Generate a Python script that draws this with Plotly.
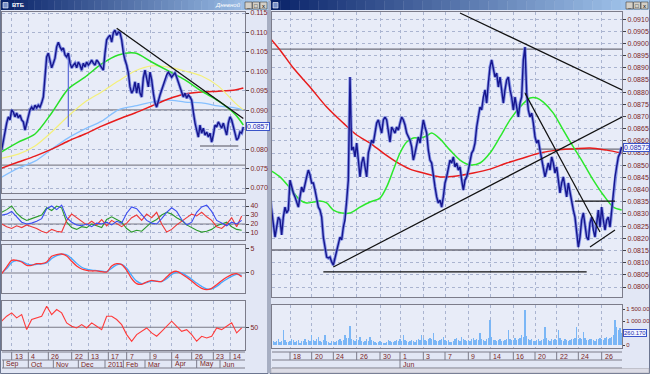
import plotly.graph_objects as go

W, H = 650, 374
def PX(x): return x / W
def PY(y): return 1 - y / H

# ---------------- DATA ----------------
# Left window (daily): price, bar index 0..145
left_price = [
    0.0798, 0.0823, 0.0841, 0.0867, 0.0883, 0.0875, 0.0901, 0.0895, 0.0883, 0.0893,
    0.0880, 0.0888, 0.0875, 0.0870, 0.0849, 0.0867, 0.0883, 0.0901, 0.0908, 0.0901,
    0.0913, 0.0906, 0.0913, 0.0908, 0.0919, 0.0934, 0.0985, 0.1037, 0.1047, 0.1029,
    0.1009, 0.1021, 0.1034, 0.1063, 0.1075, 0.1063, 0.1055, 0.1060, 0.1042, 0.1037,
    0.1047, 0.1021, 0.1009, 0.1016, 0.1021, 0.1009, 0.1024, 0.1016, 0.1003, 0.1021,
    0.1011, 0.1024, 0.1016, 0.1021, 0.1029, 0.1021, 0.1016, 0.1029, 0.1024, 0.1016,
    0.1009, 0.1003, 0.1047, 0.1081, 0.1088, 0.1093, 0.1075, 0.1099, 0.1106, 0.1093,
    0.1101,
    0.1099, 0.1081, 0.1047, 0.1029, 0.1016, 0.0996, 0.0960, 0.0944, 0.0952,
    0.0973, 0.0944, 0.0970, 0.0944, 0.0934, 0.0983, 0.1003, 0.0985, 0.0960, 0.0998,
    0.0978, 0.0944, 0.0919, 0.0908, 0.0926, 0.0939, 0.0952, 0.0965, 0.0973, 0.0991,
    0.0998, 0.0991, 0.0985, 0.0991, 0.0996, 0.0985, 0.0973, 0.0957, 0.0947, 0.0934,
    0.0944, 0.0931, 0.0939, 0.0934, 0.0926, 0.0893, 0.0867, 0.0849, 0.0831, 0.0862,
    0.0841, 0.0854, 0.0836, 0.0844, 0.0831, 0.0841, 0.0818, 0.0836, 0.0862, 0.0857,
    0.0870, 0.0862, 0.0854, 0.0867, 0.0849, 0.0836, 0.0867, 0.0883, 0.0875, 0.0854,
    0.0841, 0.0823, 0.0829, 0.0844, 0.0841, 0.0857,
]
left_spike_idx = [40]
left_spike_low = [0.0857]
left_spike_high = [0.1047]

left_ma_x = [0, 10, 20, 30, 40, 50, 60, 70, 80, 90, 100, 110, 120, 130, 140, 145]
left_ma_green = [0.0793, 0.0818, 0.0839, 0.0893, 0.0955, 0.0985, 0.1019, 0.1042, 0.1047, 0.1024, 0.1001, 0.0978, 0.0949, 0.0924, 0.0890, 0.0862]
left_ma_yellow = [0.0777, 0.0787, 0.0808, 0.0844, 0.0885, 0.0921, 0.0947, 0.0975, 0.1001, 0.1014, 0.1011, 0.1001, 0.0988, 0.0962, 0.0919, 0.0901]
left_ma_lblue = [0.0728, 0.0751, 0.0769, 0.0800, 0.0829, 0.0852, 0.0872, 0.0901, 0.0911, 0.0921, 0.0926, 0.0921, 0.0919, 0.0911, 0.0906, 0.0901]
left_ma_red = [0.0751, 0.0767, 0.0782, 0.0800, 0.0821, 0.0839, 0.0859, 0.0877, 0.0893, 0.0911, 0.0929, 0.0942, 0.0947, 0.0949, 0.0952, 0.0957]

left_trend_x = [69, 145]
left_trend_y = [0.1111, 0.0879]
left_levels_full = [0.0901, 0.0759]
left_short_level_x = [119, 142]
left_short_level = 0.0808

# indicators (every 3rd bar)
ind_x = list(range(0, 145, 3))
adx_blue = [30, 31, 34, 28, 22, 20, 21, 23, 26, 37, 40, 36, 41, 27, 22, 19, 18, 20, 17, 21, 20, 22, 19, 23, 21,
            32, 39, 37, 30, 24, 21, 20, 26, 33, 38, 34, 25, 19, 22, 33, 39, 41, 34, 24, 21, 18, 22, 20, 24]
adx_red = [20, 17, 15, 18, 16, 19, 17, 15, 12, 10, 14, 12, 11, 24, 31, 27, 22, 19, 23, 19, 25, 18, 24, 20, 17,
           21, 27, 30, 24, 31, 27, 33, 20, 11, 14, 19, 23, 27, 31, 29, 33, 28, 24, 17, 15, 20, 27, 17, 29]
adx_green = [33, 36, 40, 32, 27, 24, 26, 28, 30, 38, 35, 40, 38, 22, 16, 14, 17, 16, 20, 18, 16, 25, 28, 25, 22,
             15, 11, 13, 12, 17, 22, 25, 30, 33, 31, 27, 24, 19, 16, 13, 11, 12, 14, 18, 20, 22, 17, 14, 13]
macd_red = [-0.14, 1.25, 2.64, 2.64, 2.29, 1.60, 1.60, 1.94, 1.94, 2.29, 3.47, 3.82, 3.96, 3.54, 2.43,
            1.46, 0.83, 0.56, 0.42, 0.42, 0.28, 0.21, 1.46, 1.94, 1.74, 0.56, -1.18, -2.22, -2.36, -1.88,
            -1.53, -1.74, -1.74, -0.83, 0.07, 0.35, -0.21, -0.90, -1.67, -2.57, -3.19, -3.47, -3.19, -2.43,
            -1.60, -0.90, -0.35, -0.14, -0.76]
macd_blue = [0.0, 0.9, 2.2, 2.6, 2.4, 1.9, 1.7, 1.8, 1.9, 2.1, 3.0, 3.6, 3.9, 3.8, 3.0, 2.0, 1.2, 0.8, 0.6, 0.5,
             0.4, 0.3, 1.0, 1.7, 1.8, 1.0, -0.5, -1.7, -2.2, -2.0, -1.7, -1.7, -1.8, -1.2, -0.3, 0.2, 0.0, -0.6,
             -1.3, -2.1, -2.8, -3.3, -3.3, -2.8, -2.0, -1.3, -0.7, -0.3, -0.5]
rsi = [56.9, 62.6, 66.4, 60.7, 64.5, 47.3, 58.8, 60.7, 62.6, 74.0, 64.5, 70.2, 66.4, 55.0, 51.1, 49.2, 53.0,
       49.2, 55.0, 51.1, 47.3, 62.6, 62.6, 58.8, 53.0, 41.6, 34.0, 41.6, 45.4, 49.2, 43.5, 39.7, 45.4, 51.1,
       56.9, 51.1, 45.4, 47.3, 41.6, 34.0, 39.7, 37.8, 39.7, 49.2, 47.3, 51.1, 55.0, 43.5, 49.2]

left_day_ticks = [6, 16, 28, 42, 52, 64, 75, 89, 102, 114, 127, 137]
left_day_labels = ["13", "4", "26", "22", "13", "17", "7", "9", "4", "26", "23", "14"]
left_month_ticks = [1, 16, 31, 46, 62, 73, 86, 102, 117, 131]
left_month_labels = ["Sep", "Oct", "Nov", "Dec", "2011", "Feb", "Mar", "Apr", "May", "Jun"]
left_yticks = [0.070, 0.075, 0.080, 0.085, 0.090, 0.095, 0.100, 0.105, 0.110, 0.115]
# 0.085 is hidden under the last-value box in the reference
left_yticktext = ["0.070", "0.075", "0.080", "", "0.090", "0.095", "0.100", "0.105", "0.110", "0.115"]
left_last = 0.0857

# Right window (intraday): bar index 0..211
right_price = [
    0.08370, 0.08316, 0.08263, 0.08205, 0.08246, 0.08287, 0.08275, 0.08214, 0.08287, 0.08328,
    0.08304, 0.08316, 0.08439, 0.08411, 0.08386, 0.08370, 0.08349, 0.08328, 0.08370, 0.08411,
    0.08390, 0.08427, 0.08452, 0.08480, 0.08460, 0.08427, 0.08427, 0.08398, 0.08357, 0.08328,
    0.08316, 0.08287, 0.08205, 0.08164, 0.08123, 0.08119, 0.08123, 0.08103, 0.08090, 0.08119,
    0.08152, 0.08181, 0.08205, 0.08193, 0.08246, 0.08275, 0.08345, 0.08439, 0.08862, 0.08562,
    0.08575, 0.08534, 0.08591, 0.08521, 0.08452, 0.08509, 0.08534, 0.08493, 0.08452, 0.08550,
    0.08575, 0.08603, 0.08591, 0.08632, 0.08673, 0.08686, 0.08657, 0.08632, 0.08686, 0.08698,
    0.08686, 0.08632, 0.08595, 0.08657, 0.08644, 0.08632, 0.08657, 0.08644, 0.08673, 0.08698,
    0.08686, 0.08665, 0.08632, 0.08616, 0.08603, 0.08575, 0.08521, 0.08550, 0.08591, 0.08616,
    0.08591, 0.08644, 0.08686, 0.08657, 0.08632, 0.08562, 0.08521, 0.08509, 0.08452, 0.08411,
    0.08370, 0.08345, 0.08357, 0.08328, 0.08370, 0.08427, 0.08452, 0.08493, 0.08521, 0.08509,
    0.08534, 0.08493, 0.08509, 0.08480, 0.08493, 0.08439, 0.08398, 0.08439, 0.08452, 0.08480,
    0.08509, 0.08550, 0.08562, 0.08591, 0.08657, 0.08698, 0.08739, 0.08727, 0.08780, 0.08809,
    0.08755, 0.08837, 0.08903, 0.08932, 0.08891, 0.08862, 0.08878, 0.08821, 0.08862, 0.08796,
    0.08755, 0.08809, 0.08850, 0.08862, 0.08809, 0.08780, 0.08727, 0.08780, 0.08739, 0.08698,
    0.08755, 0.08780, 0.08932, 0.08985, 0.08796, 0.08727, 0.08698, 0.08714, 0.08673, 0.08616,
    0.08591, 0.08603, 0.08562, 0.08521, 0.08493, 0.08452, 0.08480, 0.08509, 0.08480, 0.08534,
    0.08509, 0.08468, 0.08493, 0.08439, 0.08386, 0.08427, 0.08452, 0.08411, 0.08370, 0.08427,
    0.08386, 0.08345, 0.08316, 0.08287, 0.08234, 0.08164, 0.08205, 0.08275, 0.08304, 0.08246,
    0.08205, 0.08193, 0.08263, 0.08287, 0.08234, 0.08205, 0.08263, 0.08316, 0.08246, 0.08328,
    0.08275, 0.08234, 0.08275, 0.08287, 0.08246, 0.08316, 0.08370, 0.08452, 0.08493, 0.08534,
    0.08550, 0.08575,
]
right_volume = [
    750, 210, 150, 120, 180, 240, 130, 160, 620, 200, 140, 110, 170, 260, 190, 130, 150, 220, 100, 160,
    180, 240, 130, 210, 150, 420, 190, 160, 230, 350, 180, 140, 200, 420, 170, 120, 90, 150, 110, 130,
    160, 200, 250, 180, 220, 400, 300, 280, 790, 260, 210, 170, 230, 190, 350, 150, 120, 180, 240, 160,
    350, 200, 150, 110, 90, 130, 170, 120, 80, 100, 140, 190, 160, 110, 130, 150, 200, 170, 240, 180,
    420, 210, 150, 130, 180, 220, 160, 140, 200, 250, 190, 420, 280, 210, 160, 230, 300, 250, 480, 220,
    180, 150, 200, 240, 350, 190, 160, 210, 140, 120, 170, 230, 280, 200, 150, 350, 240, 190, 160, 210,
    180, 250, 300, 220, 270, 200, 480, 260, 210, 180, 240, 300, 1040, 350, 220, 190, 160, 200, 250, 180,
    150, 210, 260, 620, 240, 190, 220, 280, 210, 260, 300, 420, 350, 1460, 380, 260, 200, 230, 180, 150,
    200, 240, 180, 220, 260, 760, 300, 210, 180, 240, 200, 260, 220, 620, 280, 210, 170, 230, 190, 160,
    200, 250, 230, 280, 760, 260, 300, 250, 560, 280, 220, 190, 240, 270, 210, 180, 230, 260, 300, 250,
    220, 280, 320, 260, 300, 350, 400, 1040, 760, 620, 700, 480,
]
right_red_x = [0, 6, 14, 24, 34, 44, 52, 60, 68, 76, 84, 92, 102, 112, 122, 132, 142, 152, 162, 172, 182, 192, 202, 211]
right_red = [0.09022, 0.08973, 0.08899, 0.08821, 0.08739, 0.08673, 0.08624, 0.08591, 0.08550, 0.08513, 0.08484,
             0.08468, 0.08452, 0.08456, 0.08468, 0.08484, 0.08509, 0.08530, 0.08550, 0.08562, 0.08567, 0.08571,
             0.08562, 0.08550]
right_green_x = [0, 6, 12, 18, 22, 26, 30, 34, 38, 43, 48, 54, 60, 66, 70, 74, 78, 82, 86, 90, 94, 97, 102, 108,
                 114, 120, 126, 132, 138, 144, 150, 156, 160, 164, 170, 176, 182, 188, 194, 200, 206, 211]
right_green = [0.08480, 0.08452, 0.08406, 0.08357, 0.08345, 0.08349, 0.08353, 0.08345, 0.08316, 0.08304, 0.08304,
               0.08328, 0.08349, 0.08365, 0.08411, 0.08480, 0.08550, 0.08595, 0.08612, 0.08612, 0.08620, 0.08632,
               0.08608, 0.08562, 0.08521, 0.08501, 0.08509, 0.08550, 0.08616, 0.08686, 0.08739, 0.08776, 0.08776,
               0.08759, 0.08714, 0.08644, 0.08575, 0.08509, 0.08439, 0.08378, 0.08328, 0.08316]
# drawn trendlines: (x0, y0, x1, y1)
right_trends = [
    (114, 0.09125, 211.2, 0.08809),
    (38, 0.08082, 211.2, 0.08698),
    (153, 0.08796, 198, 0.08226),
    (192, 0.08164, 207, 0.08234),
    (183, 0.08353, 207, 0.08353),
    (32, 0.08062, 190, 0.08062),
]
right_gray_levels = [(0, 211.2, 0.08977), (0, 200, 0.08152), (160, 211.2, 0.08566)]
right_day_ticks = [12, 25, 38, 52, 66, 78, 92, 105, 119, 132, 146, 159, 172, 185, 199]
right_day_labels = ["18", "20", "24", "26", "30", "1", "3", "7", "9", "14", "16", "20", "22", "24", "26"]
right_month_ticks = [78]
right_month_labels = ["Jun"]
right_yticks = [0.0800, 0.0805, 0.0810, 0.0815, 0.0820, 0.0825, 0.0830, 0.0835, 0.0840, 0.0845, 0.0850, 0.0855,
                0.0860, 0.0865, 0.0870, 0.0875, 0.0880, 0.0885, 0.0890, 0.0895, 0.0900, 0.0905, 0.0910]
right_yticktext = ["0.0800", "0.0805", "0.0810", "0.0815", "0.0820", "0.0825", "0.0830", "0.0835", "0.0840",
                   "0.0845", "0.0850", "0.0855", "0.0860", "0.0865", "0.0870", "0.0875", "0.0880", "0.0885",
                   "0.0890", "0.0895", "0.0900", "0.0905", "0.0910"]
right_last = 0.08572
vol_ticks = [0, 1000, 1500]
vol_ticktext = ["0", "1 000.00", "1 500.00"]
vol_last_label = "260.170"

# ---------------- FIGURE ----------------
fig = go.Figure()

def add_line(x, y, color, width, xa, ya, shape='linear', opacity=1.0):
    fig.add_trace(go.Scatter(x=x, y=y, mode='lines', opacity=opacity,
                             line=dict(color=color, width=width, shape=shape, smoothing=0.8 if shape == 'spline' else None),
                             xaxis=xa, yaxis=ya, hoverinfo='skip', showlegend=False))

LX = [0.2, 146.0]
RX = [1.2, 211.2]
lx = list(range(len(left_price)))
rx = list(range(len(right_price)))

# left main
for lvl in left_levels_full:
    add_line(LX, [lvl, lvl], '#858590', 1.3, 'x', 'y')
add_line(left_short_level_x, [left_short_level] * 2, '#858590', 1.3, 'x', 'y')
add_line(left_ma_x, left_ma_lblue, '#86c0ff', 1.3, 'x', 'y', 'spline')
add_line(left_ma_x, left_ma_red, '#e81c1c', 1.5, 'x', 'y', 'spline')
add_line(left_ma_x, left_ma_yellow, '#f4f07a', 1.2, 'x', 'y', 'spline')
add_line(left_ma_x, left_ma_green, '#28e028', 1.5, 'x', 'y', 'spline')
for i, lo, hi in zip(left_spike_idx, left_spike_low, left_spike_high):
    add_line([i, i], [lo, hi], '#5a6ad8', 1.2, 'x', 'y')
add_line(lx, left_price, '#6a7ae0', 3.2, 'x', 'y', opacity=0.75)
add_line(lx, left_price, '#16168e', 1.4, 'x', 'y')
add_line(left_trend_x, left_trend_y, '#111111', 1.3, 'x', 'y')

# ADX panel
add_line(LX, [20, 20], '#7a7a86', 1.2, 'x2', 'y2')
add_line(ind_x, adx_green, '#2c9a2c', 1.1, 'x2', 'y2')
add_line(ind_x, adx_red, '#f03838', 1.1, 'x2', 'y2')
add_line(ind_x, adx_blue, '#3a4cf0', 1.1, 'x2', 'y2')
# MACD panel
add_line(LX, [0, 0], '#7a7a86', 1.2, 'x3', 'y3')
add_line(ind_x, macd_blue, '#46a8ff', 1.3, 'x3', 'y3', 'spline')
add_line(ind_x, macd_red, '#ff3434', 1.3, 'x3', 'y3', 'spline')
# RSI panel
add_line(LX, [50, 50], '#7a7a86', 1.2, 'x4', 'y4')
add_line(ind_x, rsi, '#ff3a3a', 1.1, 'x4', 'y4')

# right main
for x0, x1, lvl in right_gray_levels:
    add_line([x0, x1], [lvl, lvl], '#6e6e7a', 1.3, 'x5', 'y5')
add_line(right_red_x, right_red, '#e81c1c', 1.5, 'x5', 'y5', 'spline')
add_line(right_green_x, right_green, '#2ce82c', 1.5, 'x5', 'y5', 'spline')
add_line(rx, right_price, '#6a7ae0', 3.2, 'x5', 'y5', opacity=0.75)
add_line(rx, right_price, '#16168e', 1.4, 'x5', 'y5')
for x0, y0, x1, y1 in right_trends:
    add_line([x0, x1], [y0, y1], '#111111', 1.2, 'x5', 'y5')

# volume
fig.add_trace(go.Bar(x=rx, y=right_volume, width=0.8, marker=dict(color='#7ab6f6', line=dict(width=0)),
                     xaxis='x6', yaxis='y6', hoverinfo='skip', showlegend=False))

AX_FONT = dict(family='Liberation Sans, Arial, sans-serif', size=7, color='#7a1e1e')
VOL_FONT = dict(family='Liberation Sans, Arial, sans-serif', size=6, color='#7a1e1e')
GRID = dict(showgrid=True, gridcolor='#aab4d0', griddash='dot', gridwidth=1)
FRAME = dict(showline=True, mirror=True, linecolor='#7c7c8a', linewidth=1, zeroline=False)

def xax(domain, rng, ticks, anchor):
    return dict(domain=domain, range=rng, tickmode='array', tickvals=ticks, showticklabels=False, ticks='',
                anchor=anchor, fixedrange=True, automargin=False, **GRID, **FRAME)

def yax(domain, rng, tv, tt, anchor, grid=True, font=AX_FONT, ticklen=3):
    g = dict(GRID) if grid else dict(showgrid=False)
    return dict(domain=domain, range=rng, tickmode='array', tickvals=tv, ticktext=tt, side='right',
                ticks='outside', ticklen=ticklen, tickcolor='#404048', tickfont=font, anchor=anchor,
                automargin=False, fixedrange=True, **g, **FRAME)

LXD = [PX(2), PX(245)]
RXD = [PX(272), PX(622)]

layout = dict(
    width=W, height=H, margin=dict(l=0, r=0, t=0, b=0), template='none',
    paper_bgcolor='#e2e7f5', plot_bgcolor='#e8ecf8', showlegend=False,
    font=dict(family='Liberation Sans, Arial, sans-serif', size=7, color='#7a1e1e'),
    xaxis=xax(LXD, LX, left_day_ticks, 'y'),
    yaxis=yax([PY(193), PY(12)], [0.06872, 0.11526], left_yticks, left_yticktext, 'x'),
    xaxis2=xax(LXD, LX, left_day_ticks, 'y2'),
    yaxis2=yax([PY(240), PY(200)], [2.2, 46.7], [10, 20, 30, 40], ["10", "20", "30", "40"], 'x2'),
    xaxis3=xax(LXD, LX, left_day_ticks, 'y3'),
    yaxis3=yax([PY(293), PY(245)], [-4.17, 5.83], [0, 5], ["0", "5"], 'x3', grid=False),
    xaxis4=xax(LXD, LX, left_day_ticks, 'y4'),
    yaxis4=yax([PY(350), PY(301)], [24, 80], [50], ["50"], 'x4', grid=False),
    xaxis5=xax(RXD, RX, right_day_ticks, 'y5'),
    yaxis5=yax([PY(297), PY(12)], [0.07959, 0.09129], right_yticks, right_yticktext, 'x5'),
    xaxis6=xax(RXD, RX, right_day_ticks, 'y6'),
    yaxis6=yax([PY(348), PY(305)], [-125, 1667], vol_ticks, vol_ticktext, 'x6', grid=False,
               font=VOL_FONT, ticklen=2),
    bargap=0,
)
fig.update_layout(**layout)

shapes = []
annotations = []

# window frames
shapes.append(dict(type='rect', xref='paper', yref='paper', x0=PX(0.5), x1=PX(268), y0=PY(373.5), y1=PY(0.5),
                   line=dict(color='#6c7690', width=1), layer='below'))
shapes.append(dict(type='rect', xref='paper', yref='paper', x0=PX(270), x1=PX(649.5), y0=PY(373.5), y1=PY(0.5),
                   line=dict(color='#6c7690', width=1), layer='below'))

# title bars with gradient
def title_bar(x0, x1):
    n = 40
    c0, c1 = (10, 36, 106), (166, 202, 240)
    for k in range(n):
        t = k / (n - 1)
        c = tuple(int(c0[i] + (c1[i] - c0[i]) * t) for i in range(3))
        xa = x0 + (x1 - x0) * k / n
        xb = x0 + (x1 - x0) * (k + 1) / n
        shapes.append(dict(type='rect', xref='paper', yref='paper', x0=PX(xa), x1=PX(xb) + 0.0005,
                           y0=PY(10), y1=PY(0), line=dict(width=0), fillcolor='rgb(%d,%d,%d)' % c))
    for b, g in zip(range(3), ['_', '□', 'x']):
        bx1 = x1 - 1 - (2 - b) * 7.5
        shapes.append(dict(type='rect', xref='paper', yref='paper', x0=PX(bx1 - 7), x1=PX(bx1),
                           y0=PY(9), y1=PY(2), line=dict(color='#404040', width=0.6), fillcolor='#d4d0c8'))
        annotations.append(dict(x=PX(bx1 - 3.5), y=PY(5.7), xref='paper', yref='paper', text=g, showarrow=False,
                                font=dict(size=6, color='#000000'), xanchor='center', yanchor='middle'))
    shapes.append(dict(type='rect', xref='paper', yref='paper', x0=PX(x0 + 2), x1=PX(x0 + 7),
                       y0=PY(8), y1=PY(2.5), line=dict(color='#ffffff', width=0.6), fillcolor='#7890c8'))

title_bar(1, 268)
title_bar(271, 649)
annotations.append(dict(x=PX(10), y=PY(5.3), xref='paper', yref='paper', text='<b>ВТБ</b>', showarrow=False,
                        font=dict(size=6, color='#ffffff'), xanchor='left', yanchor='middle'))
annotations.append(dict(x=PX(243), y=PY(5.3), xref='paper', yref='paper', text='<i>Дневной</i>', showarrow=False,
                        font=dict(size=6, color='#ffffff'), xanchor='right', yanchor='middle'))

# date axis rows
def date_rows(xref, xd, day_ticks, day_labels, m_ticks, m_labels):
    for yy in (352, 360, 368):
        shapes.append(dict(type='line', xref='paper', yref='paper', x0=xd[0], x1=xd[1], y0=PY(yy), y1=PY(yy),
                           line=dict(color='#7c7c8a', width=1)))
    for t, lab in zip(day_ticks, day_labels):
        shapes.append(dict(type='line', xref=xref, yref='paper', x0=t, x1=t, y0=PY(352), y1=PY(360),
                           line=dict(color='#7c7c8a', width=1)))
        annotations.append(dict(x=t, y=PY(356.2), xref=xref, yref='paper', text=lab, showarrow=False,
                                xanchor='left', yanchor='middle', xshift=1, font=AX_FONT))
    for t, lab in zip(m_ticks, m_labels):
        shapes.append(dict(type='line', xref=xref, yref='paper', x0=t, x1=t, y0=PY(360), y1=PY(368),
                           line=dict(color='#7c7c8a', width=1)))
        annotations.append(dict(x=t, y=PY(364.2), xref=xref, yref='paper', text=lab, showarrow=False,
                                xanchor='left', yanchor='middle', xshift=1, font=AX_FONT))

date_rows('x4', LXD, left_day_ticks, left_day_labels, left_month_ticks, left_month_labels)
date_rows('x6', RXD, right_day_ticks, right_day_labels, right_month_ticks, right_month_labels)

# bottom scrollbar of right window
shapes.append(dict(type='rect', xref='paper', yref='paper', x0=PX(271), x1=PX(649), y0=PY(373), y1=PY(368.5),
                   line=dict(color='#a0a0a8', width=0.5), fillcolor='#dcdce6'))

# last value boxes
box = dict(showarrow=False, xanchor='left', yanchor='middle', bgcolor='#f4f6ff', bordercolor='#3a54c8',
           borderwidth=1, borderpad=0, font=dict(family='Liberation Sans, Arial, sans-serif', size=7, color='#1c2cb0'))
annotations.append(dict(x=PX(246), y=left_last, xref='paper', yref='y', text='0.0857', **box))
annotations.append(dict(x=PX(623), y=right_last, xref='paper', yref='y5', text='0.08572', **box))
box_small = dict(box)
box_small['font'] = dict(family='Liberation Sans, Arial, sans-serif', size=6, color='#1c2cb0')
annotations.append(dict(x=PX(623), y=500, xref='paper', yref='y6', text=vol_last_label, **box_small))

fig.update_layout(shapes=shapes, annotations=annotations)
fig.write_html("out.html", config={'displayModeBar': False, 'staticPlot': True},
               post_script="document.body.style.margin='0';document.body.style.padding='0';"
                           "document.body.style.overflow='hidden';")
